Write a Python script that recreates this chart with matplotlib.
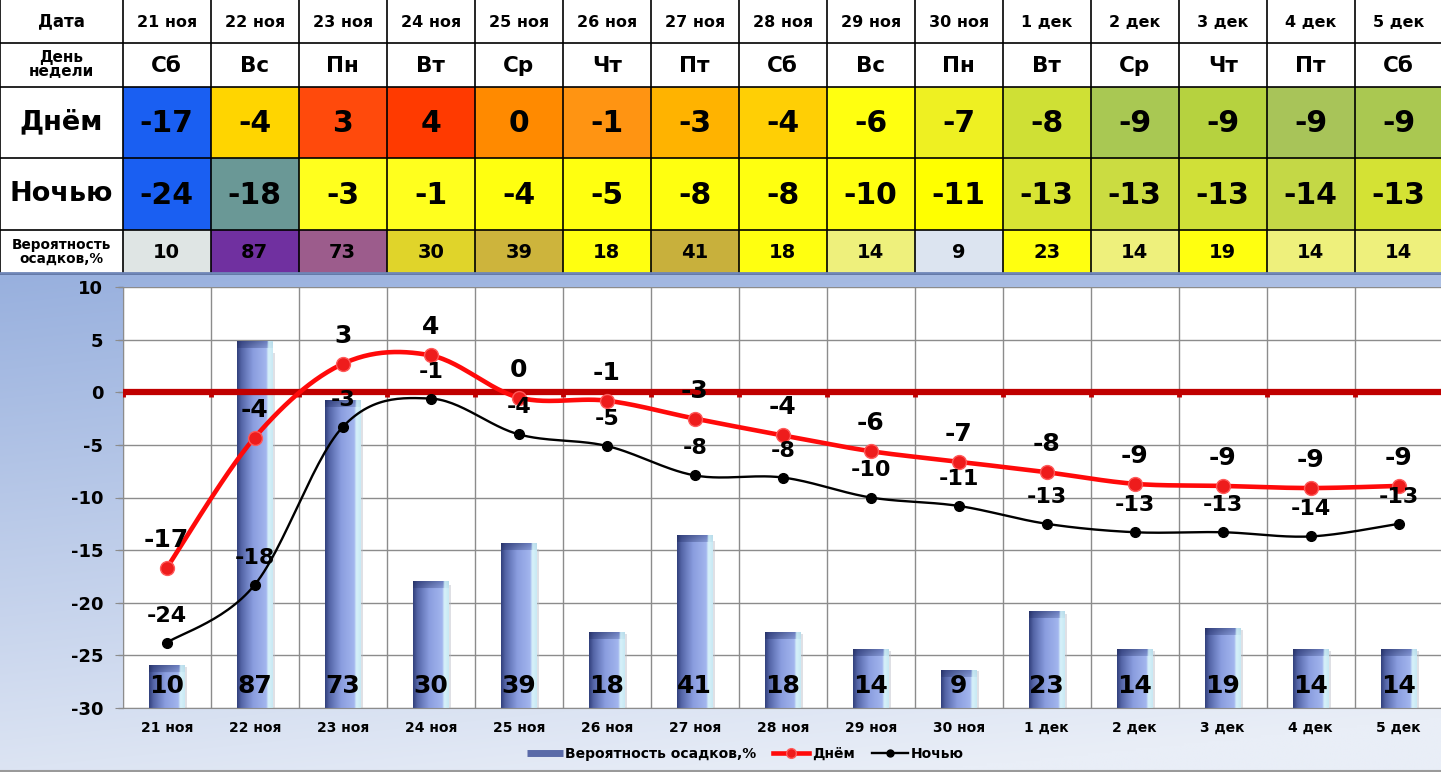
import numpy as np
import matplotlib
matplotlib.use('Agg')
import matplotlib.pyplot as plt
from matplotlib.patches import Rectangle
from matplotlib.lines import Line2D
from matplotlib.colors import to_rgb

# ---------------- data ----------------
dates = ['21 ноя', '22 ноя', '23 ноя', '24 ноя', '25 ноя', '26 ноя', '27 ноя', '28 ноя',
         '29 ноя', '30 ноя', '1 дек', '2 дек', '3 дек', '4 дек', '5 дек']
weekdays = ['Сб', 'Вс', 'Пн', 'Вт', 'Ср', 'Чт', 'Пт', 'Сб', 'Вс', 'Пн', 'Вт', 'Ср', 'Чт', 'Пт', 'Сб']
day_temp = [-17, -4, 3, 4, 0, -1, -3, -4, -6, -7, -8, -9, -9, -9, -9]
night_temp = [-24, -18, -3, -1, -4, -5, -8, -8, -10, -11, -13, -13, -13, -14, -13]
precip = [10, 87, 73, 30, 39, 18, 41, 18, 14, 9, 23, 14, 19, 14, 14]
# plotted (unrounded) values
day_line = [-16.7, -4.3, 2.7, 3.5, -0.5, -0.8, -2.5, -4.1, -5.6, -6.6, -7.6, -8.7, -8.9, -9.1, -8.9]
night_line = [-23.8, -18.3, -3.3, -0.6, -4.0, -5.1, -7.9, -8.1, -10.0, -10.8, -12.5, -13.3, -13.3, -13.7, -12.5]

row_labels = ['Дата', 'День\nнедели', 'Днём', 'Ночью', 'Вероятность\nосадков,%']
day_colors = ['#1a5ff2', '#ffd500', '#ff4a0c', '#ff3a00', '#ff8a00', '#ff9412', '#ffb300',
              '#ffcf05', '#ffff10', '#eef022', '#cfe035', '#a9c853', '#b6d23f', '#a8c459', '#aac851']
night_colors = ['#1a5ff2', '#6a9896', '#ffff1e', '#ffff1e', '#ffff10', '#ffff10', '#ffff10',
                '#ffff10', '#ffff10', '#ffff00', '#d8e434', '#cbdc41', '#d0e038', '#c4d846', '#d4e234']
precip_colors = ['#dfe5e4', '#7030a0', '#9c5c8c', '#e0d42a', '#cdb43c', '#ffff10', '#c8b03c',
                 '#ffff10', '#eef07c', '#dce4f0', '#ffff10', '#eef07c', '#ffff10', '#eef07c', '#eef07c']

W, H = 1441, 777
fig = plt.figure(figsize=(W / 100, H / 100), dpi=100)
fig.patch.set_facecolor('white')

bg = fig.add_axes([0, 0, 1, 1])
bg.axis('off')

# chart background gradient
yy, xx = np.mgrid[0:1:200j, 0:1:300j]
t = np.clip(0.85 * yy + 0.25 * xx, 0, 1)
c0 = np.array(to_rgb('#98b0de'))
c1 = np.array(to_rgb('#e9eef7'))
img = c0 + (c1 - c0) * t[..., None]
bg.imshow(img, extent=[0, W, H, 274], aspect='auto', interpolation='bilinear', zorder=0)
bg.plot([0, W], [771, 771], color='#9a9a9a', lw=1.5, zorder=1)
bg.add_patch(Rectangle((0, 772), W, 6, facecolor='white', edgecolor='none', zorder=1))

# ---------------- table ----------------
x_edges = [0, 122.7] + [122.7 + 88 * k for k in range(1, 16)]
y_edges = [0, 42.7, 86.7, 158.3, 230, 274]
row_fills = [None, None, day_colors, night_colors, precip_colors]
row_texts = [dates, weekdays, [str(v) for v in day_temp], [str(v) for v in night_temp],
             [str(v) for v in precip]]
row_sizes = [11.5, 15.5, 21.5, 21.5, 14]
label_sizes = [12, 11, 19.5, 19.5, 9.8]

for r in range(5):
    y0, y1 = y_edges[r], y_edges[r + 1]
    bg.add_patch(Rectangle((0, y0), x_edges[1], y1 - y0, facecolor='white', edgecolor='none', zorder=2))
    bg.text(x_edges[1] / 2, (y0 + y1) / 2, row_labels[r], ha='center', va='center',
            fontsize=label_sizes[r], fontweight='bold', linespacing=0.95, zorder=4)
    for c in range(15):
        xa, xb = x_edges[c + 1], x_edges[c + 2]
        fc = 'white' if row_fills[r] is None else row_fills[r][c]
        bg.add_patch(Rectangle((xa, y0), xb - xa, y1 - y0, facecolor=fc, edgecolor='none', zorder=2))
        bg.text((xa + xb) / 2, (y0 + y1) / 2 + 1, row_texts[r][c], ha='center', va='center',
                fontsize=row_sizes[r], fontweight='bold', zorder=4)
for xe in x_edges:
    bg.plot([xe, xe], [0, 274], color='black', lw=1.2, zorder=3)
for ye in y_edges[1:]:
    bg.plot([0, W], [ye, ye], color='black', lw=1.2, zorder=3)
bg.plot([0, W], [273, 273], color='#6f86b8', lw=2, zorder=3)

bg.set_xlim(0, W)
bg.set_ylim(H, 0)

# ---------------- chart ----------------
L = 122.7 / W
B = 1 - 708 / H
Wd = 1320 / W
Hd = (708 - 287) / H
x = np.arange(len(dates))

ax = fig.add_axes([L, B, Wd, Hd])
ax.set_facecolor('white')


def mix(a, b, f):
    return np.array(to_rgb(a)) * (1 - f) + np.array(to_rgb(b)) * f


prof_stops = [(0.0, '#34427e'), (0.12, '#5566a8'), (0.45, '#8a9ddf'), (0.82, '#a3b6ee'),
              (0.88, '#d8f2fa'), (1.0, '#c9e9f4')]
cap_stops = [(0.0, '#28346a'), (0.12, '#3a4885'), (0.5, '#55659f'), (0.85, '#6d7fc0'),
             (0.88, '#c6e6f2'), (1.0, '#b8dcea')]


def profile(stops, n):
    out = np.zeros((n, 3))
    us = np.linspace(0, 1, n)
    for i, u in enumerate(us):
        for (ua, ca), (ub, cb) in zip(stops[:-1], stops[1:]):
            if ua <= u <= ub:
                out[i] = mix(ca, cb, (u - ua) / (ub - ua) if ub > ua else 0)
                break
    return out


bars = ax.bar(x, precip, width=0.4, color='none', edgecolor='none', zorder=2)
body = profile(prof_stops, 40)
cap = profile(cap_stops, 40)
for b in bars:
    x0, w, h = b.get_x(), b.get_width(), b.get_height()
    hpx = max(int(round(h * 4.21)), 3)
    arr = np.repeat(body[None, :, :], hpx, axis=0)
    ncap = min(7, hpx)
    for k in range(ncap):
        f = k / max(ncap - 1, 1)
        arr[k] = cap * (1 - 0.4 * f) + body * (0.4 * f)
    ax.add_patch(Rectangle((x0 + w, 0), 0.03, h * 0.97, facecolor='#b8bcc6', edgecolor='none',
                           alpha=0.45, zorder=1.9))
    ax.imshow(arr, extent=[x0, x0 + w, 0, h], aspect='auto', interpolation='bilinear', zorder=2)

for i, p in enumerate(precip):
    ax.text(i, 5.3, str(p), ha='center', va='center', fontsize=18, fontweight='bold', zorder=4)

ax.set_xlim(-0.5, 14.5)
ax.set_ylim(0, 100)
ax.set_aspect('auto')
ax.set_yticks(np.linspace(0, 100, 9))
ax.set_xticks(x)
ax.set_xticklabels(dates, fontsize=10, fontweight='bold')
ax.set_xticks(np.arange(-0.5, 15, 1), minor=True)
ax.tick_params(axis='x', which='both', length=0, pad=9)
ax.tick_params(axis='y', left=False, labelleft=False)
ax.grid(True, axis='y', color='#8c8c8c', lw=1)
ax.grid(True, axis='x', which='minor', color='#8c8c8c', lw=1)
ax.set_axisbelow(True)
for s in ['top', 'right']:
    ax.spines[s].set_visible(False)
for s in ['left', 'bottom']:
    ax.spines[s].set_color('#8c8c8c')

ax2 = ax.twinx()
ax2.set_ylim(-30, 10)
ax2.set_xlim(-0.5, 14.5)
ax2.yaxis.tick_left()
ax2.set_yticks(range(-30, 11, 5))
ax2.set_yticklabels([str(v) for v in range(-30, 11, 5)], fontsize=13, fontweight='bold')
ax2.tick_params(axis='y', length=6, color='#8c8c8c', pad=8)
for s in ax2.spines.values():
    s.set_visible(False)


def smooth(xv, yv, n=30):
    xv = np.asarray(xv, float)
    yv = np.asarray(yv, float)
    px = np.concatenate([[xv[0]], xv, [xv[-1]]])
    py = np.concatenate([[yv[0]], yv, [yv[-1]]])
    outx, outy = [], []
    for i in range(1, len(px) - 2):
        p0x, p1x, p2x, p3x = px[i - 1:i + 3]
        p0y, p1y, p2y, p3y = py[i - 1:i + 3]
        m1x, m2x = (p2x - p0x) / 2, (p3x - p1x) / 2
        m1y, m2y = (p2y - p0y) / 2, (p3y - p1y) / 2
        tt = np.linspace(0, 1, n)
        h00 = 2 * tt ** 3 - 3 * tt ** 2 + 1
        h10 = tt ** 3 - 2 * tt ** 2 + tt
        h01 = -2 * tt ** 3 + 3 * tt ** 2
        h11 = tt ** 3 - tt ** 2
        outx.append(h00 * p1x + h10 * m1x + h01 * p2x + h11 * m2x)
        outy.append(h00 * p1y + h10 * m1y + h01 * p2y + h11 * m2y)
    return np.concatenate(outx), np.concatenate(outy)


# zero line with tick marks
ax2.plot([-0.53, 14.5], [0, 0], color='#c00000', lw=4.5, solid_capstyle='butt', zorder=3)
ax2.vlines(np.arange(-0.5, 15, 1), -0.45, 0, color='#c00000', lw=3.5, zorder=3)

sx, sy = smooth(x, night_line)
ax2.plot(sx, sy, color='black', lw=1.7, zorder=5)
ax2.plot(x, night_line, 'o', ms=7, color='black', zorder=6)
sx, sy = smooth(x, day_line)
ax2.plot(sx, sy, color='#ff0a0a', lw=3.3, zorder=5)
ax2.plot(x, day_line, 'o', ms=10, mfc='#ee1c1c', mec='#ff5a5a', mew=1, zorder=6)

for i in range(len(x)):
    ax2.annotate(str(night_temp[i]), (i, night_line[i]), xytext=(0, 27), textcoords='offset pixels',
                 ha='center', va='center', fontsize=16, fontweight='bold', zorder=7)
    ax2.annotate(str(day_temp[i]), (i, day_line[i]), xytext=(0, 28), textcoords='offset pixels',
                 ha='center', va='center', fontsize=18, fontweight='bold', zorder=7)

handles = [Line2D([0], [0], color='#5a6aa8', lw=5, solid_capstyle='butt'),
           Line2D([0], [0], color='#ff0a0a', lw=3.3, marker='o', ms=7, mfc='#ee1c1c', mec='#ff5a5a'),
           Line2D([0], [0], color='black', lw=1.7, marker='o', ms=5)]
fig.legend(handles, ['Вероятность осадков,%', 'Днём', 'Ночью'], loc='center',
           bbox_to_anchor=(745 / W, 1 - 754 / H), ncol=3, frameon=False,
           prop={'size': 10, 'weight': 'bold'}, handlelength=2.6, handletextpad=0.2,
           columnspacing=1.2)

fig.savefig('out.png', dpi=100)
